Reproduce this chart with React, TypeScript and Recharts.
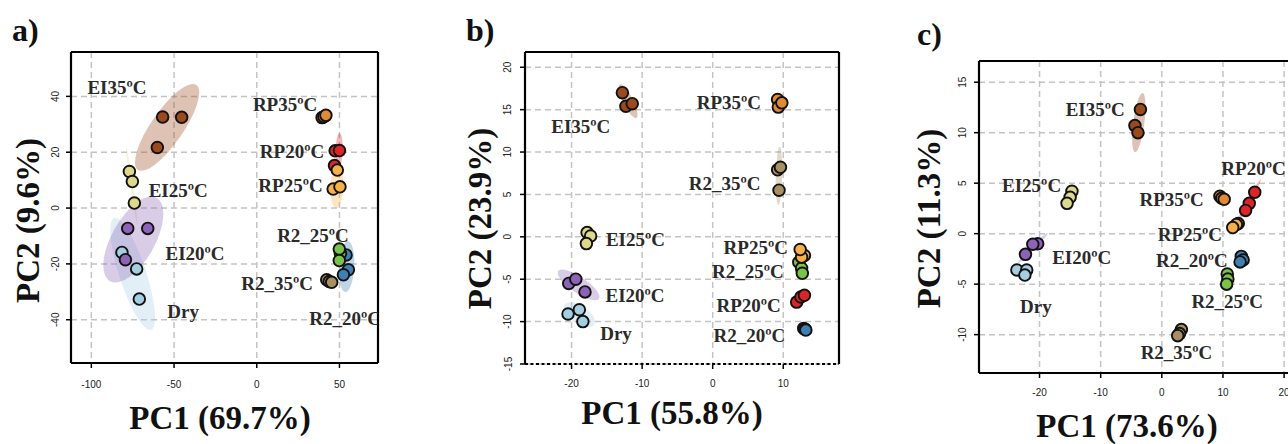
import React from "react";
import { ScatterChart, Scatter, XAxis, YAxis, CartesianGrid, ReferenceLine } from "recharts";

const SERIF = '"Liberation Serif", "Times New Roman", serif';
const SANS = '"Liberation Sans", Arial, sans-serif';

const COLORS: Record<string, string> = {
  Dry: "#a6cee3",
  EI20: "#8c63b6",
  EI25: "#dcd98c",
  EI35: "#9a4a1c",
  RP20: "#dd2529",
  RP25: "#f6b04a",
  RP35: "#e08a35",
  R2_20: "#3f7fb3",
  R2_25: "#7cc24a",
  R2_35: "#a89062",
};

const NAMES: Record<string, string> = {
  Dry: "Dry",
  EI20: "EI20\u00baC",
  EI25: "EI25\u00baC",
  EI35: "EI35\u00baC",
  RP20: "RP20\u00baC",
  RP25: "RP25\u00baC",
  RP35: "RP35\u00baC",
  R2_20: "R2_20\u00baC",
  R2_25: "R2_25\u00baC",
  R2_35: "R2_35\u00baC",
};

type Pt = [string, number, number];
// group, centre x, centre y, half-axis a (x, y), half-axis b (x, y) — data units
type Ell = [string, number, number, number, number, number, number];

// ---- panel a ----
const pointsA: Pt[] = [
  ["Dry", -81.5, -15.9], ["Dry", -72.6, -21.8], ["Dry", -71.0, -32.6],
  ["EI20", -78.0, -7.3], ["EI20", -65.9, -7.3], ["EI20", -79.4, -18.5],
  ["EI25", -77.0, 13.1], ["EI25", -75.2, 9.5], ["EI25", -74.0, 1.8],
  ["EI35", -56.9, 32.6], ["EI35", -45.4, 32.5], ["EI35", -60.1, 21.7],
  ["RP35", 39.5, 32.4], ["RP35", 40.6, 32.7], ["RP35", 41.8, 33.2],
  ["RP20", 47.4, 20.5], ["RP20", 50.0, 20.6], ["RP20", 47.0, 15.2],
  ["RP25", 48.7, 13.6], ["RP25", 46.2, 6.8], ["RP25", 50.3, 7.6],
  ["R2_20", 54.0, -16.8], ["R2_20", 55.4, -22.1], ["R2_20", 52.4, -23.9],
  ["R2_25", 50.6, -16.3], ["R2_25", 49.9, -14.7], ["R2_25", 49.9, -18.8],
  ["R2_35", 42.3, -25.7], ["R2_35", 43.8, -26.3], ["R2_35", 45.3, -26.6],
];
const ellipsesA: Ell[] = [
  ["EI35", -54.2, 28.9, 17.7, 15.2, 8.0, -3.3],
  ["EI25", -75.6, 8.0, -3.4, 14.1, 0.8, 0.05],
  ["Dry", -75.0, -23.6, 11.1, -20.0, 7.7, 1.5],
  ["EI20", -74.6, -11.3, 14.1, 14.9, 11.4, -3.8],
  ["RP20", 49.8, 20.6, 0.3, 6.2, 2.2, 0],
  ["RP25", 48.5, 7.8, 0.5, 7.7, 4.0, 0],
  ["R2_20", 54.3, -21.0, 1.0, 9.1, 4.6, -0.5],
];
const labelsA: Pt[] = [
  ["EI35", -84.5, 43.1], ["EI25", -47.5, 6.3], ["EI20", -37.3, -16.4],
  ["Dry", -44.5, -37.1], ["RP35", 17.1, 37.0], ["RP20", 21.3, 20.3],
  ["RP25", 20.4, 8.0], ["R2_25", 34.0, -9.9], ["R2_35", 12.3, -27.1],
  ["R2_20", 53.4, -39.6],
];
const xTicksA = [-100, -50, 0, 50];
const yTicksA = [-40, -20, 0, 20, 40];

// ---- panel b ----
const pointsB: Pt[] = [
  ["EI35", -12.8, 17.0], ["EI35", -12.3, 15.4], ["EI35", -11.4, 15.7],
  ["RP35", 9.2, 16.2], ["RP35", 9.3, 15.3], ["RP35", 9.8, 15.8],
  ["R2_35", 9.2, 7.9], ["R2_35", 9.6, 8.2], ["R2_35", 9.4, 5.5],
  ["EI25", -17.8, 0.5], ["EI25", -17.3, 0.1], ["EI25", -17.9, -0.8],
  ["EI20", -20.4, -5.5], ["EI20", -19.4, -5.0], ["EI20", -18.1, -6.5],
  ["Dry", -20.5, -9.1], ["Dry", -18.9, -8.6], ["Dry", -18.4, -10.0],
  ["R2_25", 12.2, -3.0], ["R2_25", 12.6, -3.7], ["R2_25", 12.7, -4.3],
  ["RP25", 13.0, -2.2], ["RP25", 12.6, -2.4], ["RP25", 12.4, -1.5],
  ["RP20", 11.9, -7.7], ["RP20", 12.5, -7.1], ["RP20", 13.0, -6.9],
  ["R2_20", 12.9, -10.8], ["R2_20", 13.1, -10.9], ["R2_20", 13.2, -11.0],
];
const ellipsesB: Ell[] = [
  ["EI35", -12.0, 16.0, 1.18, -1.97, 0.64, 0.26],
  ["R2_35", 9.4, 7.2, 0.1, 3.45, 0.45, 0],
  ["EI25", -17.5, 0.0, 0.0, 1.5, 0.4, 0],
  ["EI20", -19.0, -5.67, 2.9, -1.63, -0.63, -0.78],
  ["Dry", -18.9, -9.2, 2.1, -1.18, -0.71, -0.89],
];
const labelsB: Pt[] = [
  ["EI35", -18.7, 13.0], ["RP35", 2.3, 15.8], ["R2_35", 1.7, 6.3],
  ["EI25", -10.95, -0.3], ["RP25", 6.1, -1.2], ["R2_25", 5.0, -4.1],
  ["EI20", -11.0, -6.9], ["RP20", 5.1, -8.1], ["Dry", -13.7, -11.4],
  ["R2_20", 5.2, -11.6],
];
const xTicksB = [-20, -10, 0, 10];
const yTicksB = [-15, -10, -5, 0, 5, 10, 15, 20];

// ---- panel c ----
const pointsC: Pt[] = [
  ["EI35", -3.5, 12.3], ["EI35", -4.4, 10.7], ["EI35", -3.9, 10.0],
  ["EI25", -14.7, 4.2], ["EI25", -15.0, 3.6], ["EI25", -15.5, 3.0],
  ["EI20", -20.3, -1.0], ["EI20", -21.1, -1.05], ["EI20", -22.3, -2.05],
  ["Dry", -23.7, -3.6], ["Dry", -22.1, -3.6], ["Dry", -22.4, -4.1],
  ["RP35", 9.5, 3.7], ["RP35", 9.8, 3.5], ["RP35", 10.2, 3.4],
  ["RP20", 15.2, 4.1], ["RP20", 14.3, 3.0], ["RP20", 13.7, 2.3],
  ["RP25", 12.5, 1.0], ["RP25", 12.2, 0.9], ["RP25", 11.6, 0.6],
  ["R2_20", 13.0, -2.25], ["R2_20", 13.3, -2.6], ["R2_20", 12.8, -2.8],
  ["R2_25", 10.7, -4.0], ["R2_25", 10.8, -4.5], ["R2_25", 10.6, -5.0],
  ["R2_35", 3.2, -9.5], ["R2_35", 2.9, -9.9], ["R2_35", 2.6, -10.1],
];
const ellipsesC: Ell[] = [
  ["EI35", -3.76, 11.0, 0.62, 2.93, 0.9, -0.07],
  ["EI20", -21.1, -1.42, 2.45, 1.49, 0.23, -0.14],
  ["RP20", 14.0, 2.95, 2.2, 2.45, 0.2, -0.15],
];
const labelsC: Pt[] = [
  ["EI35", -10.9, 12.3], ["EI25", -21.3, 4.8], ["RP20", 15.0, 6.5],
  ["RP35", 1.6, 3.4], ["RP25", 4.6, -0.07], ["EI20", -13.1, -2.4],
  ["R2_20", 4.9, -2.65], ["Dry", -20.6, -7.2], ["R2_25", 10.7, -6.7],
  ["R2_35", 2.4, -11.8],
];
const xTicksC = [-20, -10, 0, 10, 20];
const yTicksC = [-10, -5, 0, 5, 10, 15];

const Y_W = 60;
const X_H = 30;
const H = 444;

const Dot = (props: any) => {
  const { cx, cy, payload } = props;
  if (cx == null || cy == null) return null;
  return <circle cx={cx} cy={cy} r={5.8} fill={COLORS[payload.g]} stroke="#111" strokeWidth={1.9} />;
};

const NameTag = (props: any) => {
  const { cx, cy, payload } = props;
  if (cx == null || cy == null) return null;
  return (
    <text x={cx} y={cy} textAnchor="middle" dominantBaseline="central"
      fontFamily={SERIF} fontWeight="bold" fontSize={19} fill="#2a2a2a">
      {NAMES[payload.g]}
    </text>
  );
};

const makeEllipse = (kx: number, ky: number) => (props: any) => {
  const { cx, cy, payload } = props;
  if (cx == null || cy == null) return null;
  const m = [payload.ax * kx, -payload.ay * ky, payload.bx * kx, -payload.by * ky, cx, cy];
  return <circle cx={0} cy={0} r={1} transform={`matrix(${m.join(" ")})`} fill={COLORS[payload.g]} fillOpacity={0.33} stroke="none" />;
};

const XTick = (props: any) => {
  const { x, y, payload } = props;
  return (
    <text x={x} y={y} textAnchor="middle" dominantBaseline="central" fontFamily={SANS} fontSize={10} fill="#222">
      {payload.value}
    </text>
  );
};

const YTick = (props: any) => {
  const { x, y, payload } = props;
  return (
    <text x={x} y={y} textAnchor="middle" dominantBaseline="central" fontFamily={SANS} fontSize={10} fill="#222"
      transform={`rotate(-90 ${x} ${y})`}>
      {payload.value}
    </text>
  );
};

interface PanelProps {
  left: number;
  plotLeft: number;
  plotRight: number;
  plotTop: number;
  plotBottom: number;
  xDomain: [number, number];
  yDomain: [number, number];
  xTicks: number[];
  yTicks: number[];
  xGap: number;
  yGap: number;
  points: Pt[];
  ellipses: Ell[];
  labels: Pt[];
  dashedBottom?: boolean;
}

function Panel(p: PanelProps) {
  const width = p.plotRight - p.left + 2;
  const plotW = p.plotRight - p.plotLeft;
  const plotH = p.plotBottom - p.plotTop;
  const kx = plotW / (p.xDomain[1] - p.xDomain[0]);
  const ky = plotH / (p.yDomain[1] - p.yDomain[0]);
  const pts = p.points.map(([g, x, y]) => ({ g, x, y }));
  const ells = p.ellipses.map(([g, x, y, ax, ay, bx, by]) => ({ g, x, y, ax, ay, bx, by }));
  const tags = p.labels.map(([g, x, y]) => ({ g, x, y }));
  const edge = { stroke: "#000", strokeWidth: 2.2, ifOverflow: "visible" as const };

  return (
    <div style={{ position: "absolute", left: p.left, top: 0 }}>
      <ScatterChart
        width={width}
        height={H}
        margin={{ top: p.plotTop, right: 2, bottom: H - p.plotBottom - X_H, left: p.plotLeft - p.left - Y_W }}
      >
        <CartesianGrid stroke="#c4c4c4" strokeWidth={1.5} strokeDasharray="6 4" />
        <XAxis type="number" dataKey="x" domain={p.xDomain} ticks={p.xTicks} allowDataOverflow
          height={X_H} axisLine={false} tickSize={5} tickMargin={p.xGap}
          tickLine={{ stroke: "#000", strokeWidth: 1.5 }} tick={<XTick />} interval={0} />
        <YAxis type="number" dataKey="y" domain={p.yDomain} ticks={p.yTicks} allowDataOverflow
          width={Y_W} axisLine={false} tickSize={5} tickMargin={p.yGap}
          tickLine={{ stroke: "#000", strokeWidth: 1.5 }} tick={<YTick />} interval={0} />
        <Scatter data={ells} shape={makeEllipse(kx, ky)} isAnimationActive={false} />
        <Scatter data={pts} shape={<Dot />} isAnimationActive={false} />
        <Scatter data={tags} shape={<NameTag />} isAnimationActive={false} />
        <ReferenceLine x={p.xDomain[0]} {...edge} />
        <ReferenceLine x={p.xDomain[1]} {...edge} />
        <ReferenceLine y={p.yDomain[1]} {...edge} />
        <ReferenceLine y={p.yDomain[0]} {...edge} strokeDasharray={p.dashedBottom ? "3 2.5" : undefined} />
      </ScatterChart>
    </div>
  );
}

const titleStyle: React.CSSProperties = {
  position: "absolute",
  fontFamily: SERIF,
  fontWeight: "bold",
  fontSize: 33,
  lineHeight: "33px",
  color: "#111",
  whiteSpace: "nowrap",
  textAlign: "center",
  width: 300,
};

function XTitle({ cx, base, text }: { cx: number; base: number; text: string }) {
  return <div style={{ ...titleStyle, left: cx - 150, top: base - 27.5 }}>{text}</div>;
}

function YTitle({ cx, cy, text }: { cx: number; cy: number; text: string }) {
  return (
    <div style={{ ...titleStyle, left: cx - 150, top: cy - 16.5, transform: "rotate(-90deg)", transformOrigin: "50% 50%" }}>
      {text}
    </div>
  );
}

function Tag({ x, base, text }: { x: number; base: number; text: string }) {
  return (
    <div style={{ position: "absolute", left: x, top: base - 27, fontFamily: SERIF, fontWeight: "bold", fontSize: 32, lineHeight: "32px", color: "#111" }}>
      {text}
    </div>
  );
}

export default function App() {
  return (
    <div style={{ position: "absolute", left: 0, top: 0, width: 1288, height: 444, overflow: "hidden", background: "#fff" }}>
      <Panel left={0} plotLeft={71} plotRight={378} plotTop={52} plotBottom={363}
        xDomain={[-112.3, 73.3]} yDomain={[-55.5, 55.9]} xTicks={xTicksA} yTicks={yTicksA}
        xGap={16} yGap={10.5} points={pointsA} ellipses={ellipsesA} labels={labelsA} />
      <Panel left={440} plotLeft={525} plotRight={839} plotTop={52} plotBottom={364}
        xDomain={[-26.6, 17.9]} yDomain={[-15, 21.8]} xTicks={xTicksB} yTicks={yTicksB}
        xGap={14} yGap={12} points={pointsB} ellipses={ellipsesB} labels={labelsB} dashedBottom />
      <Panel left={900} plotLeft={979} plotRight={1300} plotTop={61} plotBottom={373}
        xDomain={[-29.9, 22.6]} yDomain={[-13.8, 17.1]} xTicks={xTicksC} yTicks={yTicksC}
        xGap={14} yGap={11} points={pointsC} ellipses={ellipsesC} labels={labelsC} />

      <Tag x={12} base={41} text="a)" />
      <Tag x={466} base={41} text="b)" />
      <Tag x={917} base={45} text="c)" />

      <XTitle cx={220} base={429} text="PC1 (69.7%)" />
      <XTitle cx={672} base={424} text="PC1 (55.8%)" />
      <XTitle cx={1127} base={437} text="PC1 (73.6%)" />

      <YTitle cx={28} cy={220} text="PC2 (9.6%)" />
      <YTitle cx={480} cy={218} text="PC2 (23.9%)" />
      <YTitle cx={929} cy={218} text="PC2 (11.3%)" />
    </div>
  );
}
